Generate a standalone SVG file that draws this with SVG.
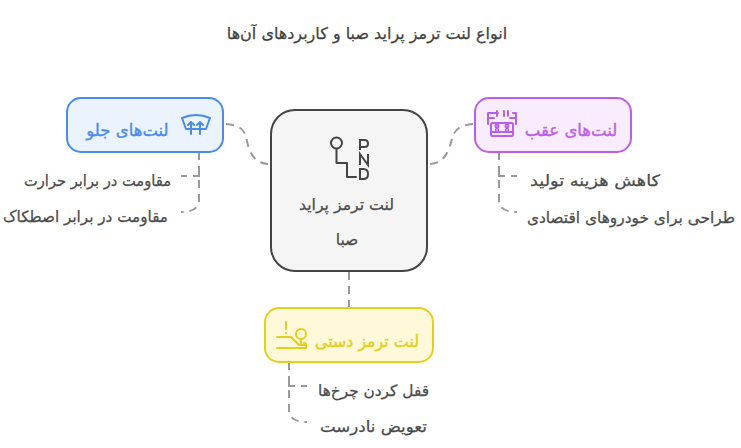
<svg xmlns="http://www.w3.org/2000/svg" width="741" height="448" viewBox="0 0 741 448">
<style>
text{font-family:"DejaVu Sans","Noto Sans",sans-serif;font-size:15.500px;stroke:#4a4a4a;stroke-width:.25;text-anchor:middle;direction:rtl;fill:#4a4a4a}
.title{font-size:16px;fill:#3f3f3f;stroke:#3f3f3f}
.lb{font-size:16.500px;stroke-width:.4}
.c{fill:none;stroke:#999;stroke-width:2;stroke-dasharray:8 6}
.b{stroke-dasharray:12 6 6}
.ic{fill:none;stroke-width:2;stroke-linecap:round;stroke-linejoin:round}
rect{stroke-width:2}
</style>
<rect width="741" height="448" fill="#fff" stroke="none"/>
<text class="title" x="367" y="39">انواع لنت ترمز پراید صبا و کاربردهای آن‌ها</text>
<g id="connectors">
<path class="c" d="M226 124C250 126 244 138 250 151C255 162 262 164 271 164"/>
<path class="c" d="M473 124C450 126 454 138 448 151C443 162 436 164 427 164"/>
<path class="c" d="M349 272V308"/>
<path class="c b" d="M199 170V176H181"/>
<path class="c" d="M199 152V200C199 208 193 212 181 212"/>
<path class="c b" d="M499 170V176H517"/>
<path class="c" d="M499 152V200C499 208 505 212 517 212"/>
<path class="c b" d="M289 380V386H307"/>
<path class="c" d="M289 362V410C289 418 295 422 307 422"/>
</g>
<g id="n-center">
<rect x="271" y="110" width="156" height="161" rx="24" fill="#f5f5f5" stroke="#444"/>
<g class="ic" stroke="#444"><circle cx="336.500" cy="143" r="5.500"/><path d="M336.500 149V163H347V177H356"/></g>
<g fill="none" stroke="#444" stroke-width="2"><path d="M360 150V140H364.500Q368 140 368 143.500T364.500 147H360"/><path d="M360 165V154L368 165V154"/><path d="M360 179V169H363.500Q368 169 368 174T363.500 179Z"/></g>
<text x="346.500" y="210" textLength="95" lengthAdjust="spacingAndGlyphs">لنت ترمز پراید</text>
<text x="347" y="245">صبا</text>
</g>
<g id="n-front">
<rect x="67" y="98" width="156" height="54" rx="14" fill="#ebf3ff" stroke="#4a8ce8"/>
<g class="ic" stroke="#4a8ce8"><path d="M182 118Q196 112 210 118L206 129H186Z"/><path d="M191 134V122M188 125L191 122L194 125M200 134V122M197 125L200 122L203 125"/></g>
<text class="lb" x="127.500" y="136" style="fill:#4a8ce8;stroke:#4a8ce8">لنت‌های جلو</text>
</g>
<g id="n-rear">
<rect x="475" y="98" width="156" height="54" rx="14" fill="#faecff" stroke="#bc5fe8"/>
<g class="ic" stroke="#bc5fe8"><path d="M488 124V113H498M504 111V116M508 111V116M497 111V116M513 113H516V124M488 118H494M510 118H516"/><rect x="491" y="123" width="22" height="13" rx="1.500"/><path d="M491 132H513"/><circle cx="497" cy="126" r="1.500"/><circle cx="507" cy="126" r="1.500"/><circle cx="497" cy="130" r="1.500" stroke-width="1.500"/><circle cx="507" cy="130" r="1.500" stroke-width="1.500"/></g>
<text class="lb" x="571" y="136" style="fill:#bc5fe8;stroke:#bc5fe8">لنت‌های عقب</text>
</g>
<g id="n-hand">
<rect x="265" y="308" width="168" height="54" rx="14" fill="#fff9d9" stroke="#e6cf1c"/>
<g class="ic" stroke="#e6cf1c"><path d="M286 322V329M286 333V333.500M277 337H291L299 345H306M277 348H306V344Q306 343 304 343M301 343V339"/><circle cx="301" cy="334" r="5"/></g>
<text class="lb" x="367" y="347" textLength="104" lengthAdjust="spacingAndGlyphs" style="fill:#e6cf1c;stroke:#e6cf1c">لنت ترمز دستی</text>
</g>
<g id="t1"><text x="97.500" y="186" textLength="147" lengthAdjust="spacingAndGlyphs">مقاومت در برابر حرارت</text></g>
<g id="t2"><text x="85.500" y="222" textLength="165" lengthAdjust="spacingAndGlyphs">مقاومت در برابر اصطکاک</text></g>
<g id="t3"><text x="595" y="186" textLength="130" lengthAdjust="spacingAndGlyphs">کاهش هزینه تولید</text></g>
<g id="t4"><text x="631" y="223" textLength="208" lengthAdjust="spacingAndGlyphs">طراحی برای خودروهای اقتصادی</text></g>
<g id="t5"><text x="373.500" y="396" textLength="111" lengthAdjust="spacingAndGlyphs">قفل کردن چرخ‌ها</text></g>
<g id="t6"><text x="373.500" y="432" textLength="107" lengthAdjust="spacingAndGlyphs">تعویض نادرست</text></g>
</svg>
